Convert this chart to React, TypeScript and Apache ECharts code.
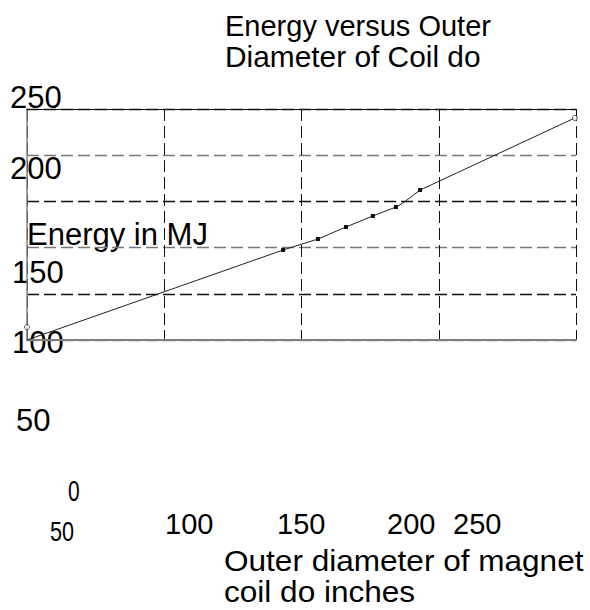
import React, { useEffect, useRef } from "react";
import * as echarts from "echarts";

// Outer diameter of magnet coil (inches) and stored energy (MJ)
const diameter = [50, 143.3, 156, 166.2, 176, 184.4, 187, 193.2, 249.6];
const energy = [0, 97.4, 109.3, 122.3, 134.2, 143.9, 148.3, 162.3, 240.3];
const marked = [false, true, true, true, true, true, false, true, false];
// open circle markers at the ends
const endX = [50, 249.6];
const endY = [14, 240.3];

const titleLines = ["Energy versus Outer", "Diameter of Coil do"];
const yTickLabels = ["250", "200", "150", "100", "50", "0"];
const xTickLabels = ["50", "100", "150", "200", "250"];
const yName = "Energy in MJ";
const xNameLines = ["Outer diameter of magnet", "coil do inches"];

const FONT = "'Liberation Sans', Arial, sans-serif";

export default function App() {
  const ref = useRef<HTMLDivElement>(null);
  useEffect(() => {
    if (!ref.current) return;
    const chart = echarts.init(ref.current, null, { renderer: "svg" });

    const txt = (text: string, x: number, y: number, size: number, scaleX = 1) => ({
      type: "text",
      x,
      y,
      scaleX,
      style: {
        text,
        fill: "#000",
        font: `${size}px ${FONT}`,
        align: "left",
        verticalAlign: "middle",
      },
    });

    const yPos = [
      [10, 97.5],
      [10, 168],
      [12, 272],
      [12, 342],
      [16, 420],
      [68, 491],
    ];
    const xPos = [
      [50, 532],
      [165, 524],
      [277, 524],
      [387, 524],
      [453, 524],
    ];

    const graphics: any[] = [
      txt(titleLines[0], 225, 25.5, 29),
      txt(titleLines[1], 225, 56.5, 29, 1.03),
      txt(yName, 27, 234, 31),
      txt(xNameLines[0], 224, 560, 29.5, 1.07),
      txt(xNameLines[1], 224, 591, 29.5, 1.07),
    ];
    yTickLabels.forEach((t, i) => {
      const narrow = t === "0";
      graphics.push(txt(t, yPos[i][0], yPos[i][1], narrow ? 30 : 31, narrow ? 0.7 : 1));
    });
    xTickLabels.forEach((t, i) => {
      const narrow = t === "50";
      graphics.push(txt(t, xPos[i][0], xPos[i][1], narrow ? 27 : 29, narrow ? 0.8 : 1));
    });

    chart.setOption({
      animation: false,
      backgroundColor: "#fff",
      grid: { left: 27, top: 109, width: 549, height: 231, containLabel: false },
      xAxis: [
        {
          type: "value",
          min: 50,
          max: 250,
          interval: 50,
          axisLine: { show: true, lineStyle: { color: "#808080", width: 2 } },
          axisTick: { show: false },
          axisLabel: { show: false },
          splitLine: { show: true, lineStyle: { color: "#111", width: 1, type: [12, 5] } },
        },
        {
          type: "value",
          position: "top",
          min: 50,
          max: 250,
          interval: 50,
          axisLine: { show: true, lineStyle: { color: "#111", width: 1.2 } },
          axisTick: { show: false },
          axisLabel: { show: false },
          splitLine: { show: false },
        },
      ],
      yAxis: {
        type: "value",
        min: 0,
        max: 250,
        interval: 50,
        axisLine: { show: true, lineStyle: { color: "#808080", width: 1.5 } },
        axisTick: { show: false },
        axisLabel: { show: false },
        splitLine: {
          show: true,
          lineStyle: {
            color: ["#808080", "#111", "#777", "#111", "#777", "#111"],
            width: 1.3,
            type: [12, 5],
          },
        },
      },
      series: [
        {
          type: "line",
          data: diameter.map((d, i) => ({
            value: [d, energy[i]],
            symbol: marked[i] ? "rect" : "none",
          })),
          symbolSize: 4,
          showSymbol: true,
          lineStyle: { color: "#222", width: 1 },
          itemStyle: { color: "#111" },
          z: 5,
        },
        {
          type: "scatter",
          data: endX.map((x, i) => [x, endY[i]]),
          symbol: "circle",
          symbolSize: 5,
          itemStyle: { color: "#fff", borderColor: "#333", borderWidth: 1 },
          z: 6,
        },
      ],
      graphic: graphics,
    });
    return () => chart.dispose();
  }, []);

  return (
    <div
      ref={ref}
      style={{ position: "absolute", left: 0, top: 0, width: 590, height: 610 }}
    />
  );
}
